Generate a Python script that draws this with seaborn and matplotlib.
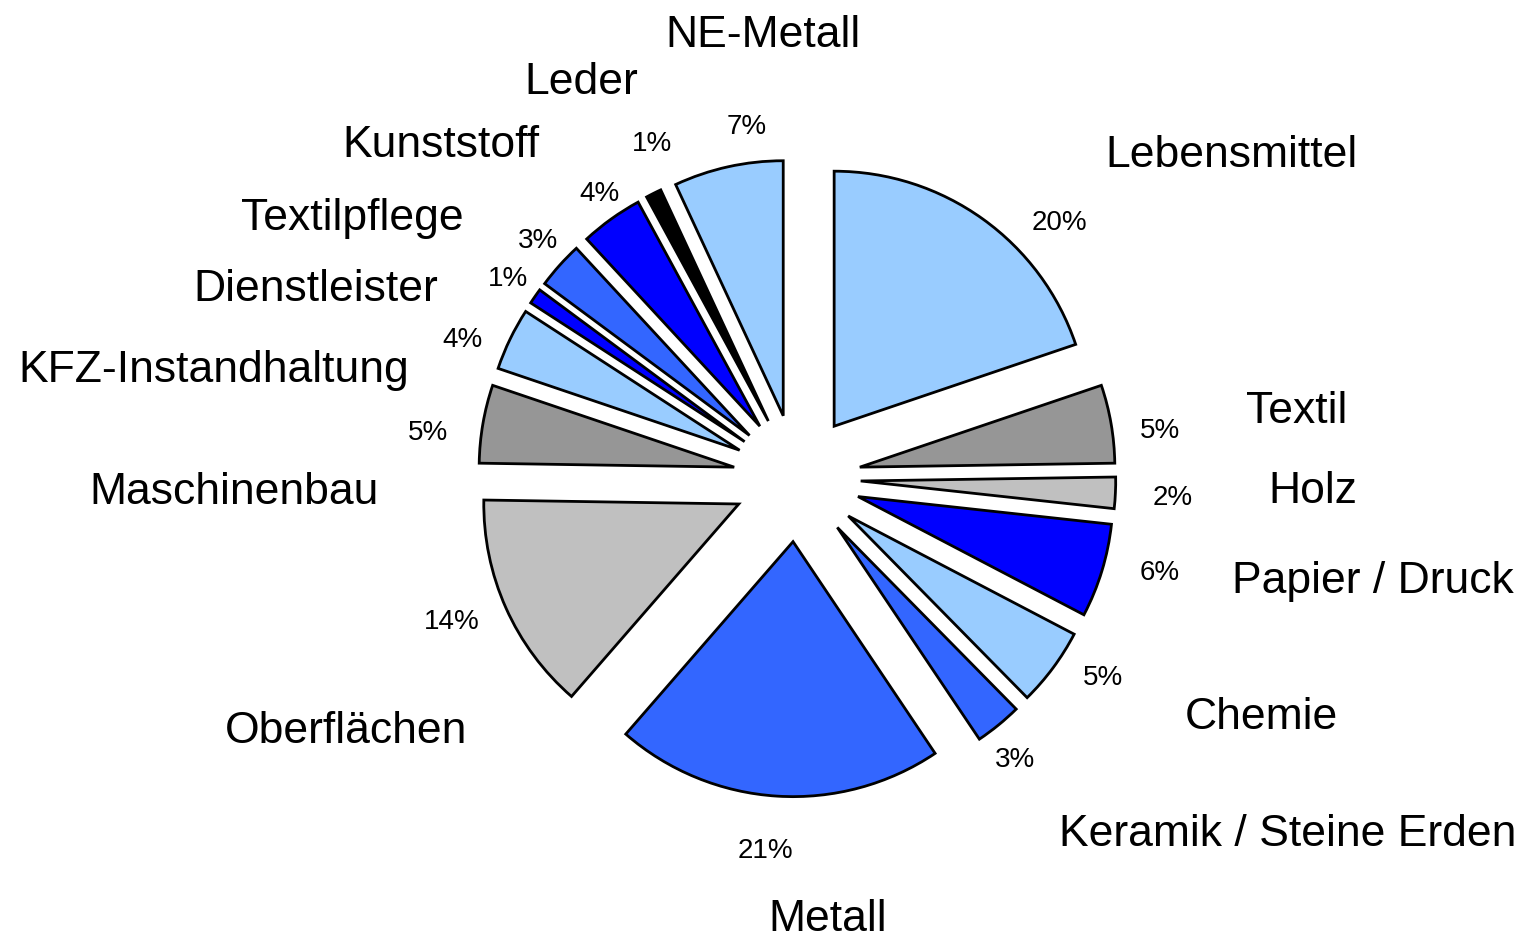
# Exploded pie of industry shares (Branchenverteilung)

import matplotlib
matplotlib.use("Agg")
import matplotlib.pyplot as plt
import numpy as np
import seaborn as sns

# data, clockwise from 12 o'clock
branches = ['Lebensmittel', 'Textil', 'Holz', 'Papier / Druck', 'Chemie',
            'Keramik / Steine Erden', 'Metall', 'Oberflächen', 'Maschinenbau',
            'KFZ-Instandhaltung', 'Dienstleister', 'Textilpflege', 'Kunststoff',
            'Leder', 'NE-Metall']
shares = [20, 5, 2, 6, 5, 3, 21, 14, 5, 4, 1, 3, 4, 1, 7]
pct_labels = [f'{s}%' for s in shares]

slice_colors = ['#99CCFF', '#969696', '#C0C0C0', '#0000FF', '#99CCFF',
                '#3366FF', '#3366FF', '#C0C0C0', '#969696', '#99CCFF',
                '#0000FF', '#3366FF', '#0000FF', '#000000', '#99CCFF']

# where the branch names sit (pie radius = 1, text baseline)
name_pos = [(1.702, 1.220), (1.961, 0.216), (2.024, -0.098), (2.259, -0.451),
            (1.820, -0.984), (1.925, -1.443), (0.122, -1.775), (-1.769, -1.039),
            (-2.208, -0.102), (-2.286, 0.376), (-1.886, 0.694), (-1.745, 0.973),
            (-1.396, 1.259), (-0.847, 1.506), (-0.133, 1.690)]
# where the percentages sit (text centre), placed by hand like the original
pct_pos = [(1.031, 1.012), (1.424, 0.196), (1.475, -0.067), (1.424, -0.361),
           (1.200, -0.773), (0.855, -1.094), (-0.125, -1.451), (-1.353, -0.553),
           (-1.447, 0.188), (-1.310, 0.553), (-1.133, 0.792), (-1.016, 0.941),
           (-0.773, 1.125), (-0.569, 1.322), (-0.196, 1.388)]

sns.set_theme(style='white')
plt.rcParams['font.family'] = ['Liberation Sans', 'DejaVu Sans']

fig = plt.figure(figsize=(15.26, 9.38), dpi=100)
ax = fig.add_axes([0, 0, 1, 1])

wedges, texts = ax.pie(shares, labels=pct_labels, colors=slice_colors,
                       explode=[0.25] * len(shares), startangle=90,
                       counterclock=False, labeldistance=1.2,
                       wedgeprops=dict(edgecolor='black', linewidth=2),
                       textprops=dict(fontsize=20, color='black'))
for t, xy in zip(texts, pct_pos):
    t.set_position(xy)
    t.set_horizontalalignment('center')
    t.set_verticalalignment('center_baseline')

for name, (x, y) in zip(branches, name_pos):
    ax.text(x, y, name, fontsize=32, ha='center', va='baseline', color='black')

# pie centre at (797, 478) px, radius 255 px
ax.set_xlim(-797 / 255, (1526 - 797) / 255)
ax.set_ylim(-(938 - 478) / 255, 478 / 255)
ax.set_aspect('equal', adjustable='datalim')
ax.axis('off')

fig.savefig('out.png', dpi=100, facecolor='white')
